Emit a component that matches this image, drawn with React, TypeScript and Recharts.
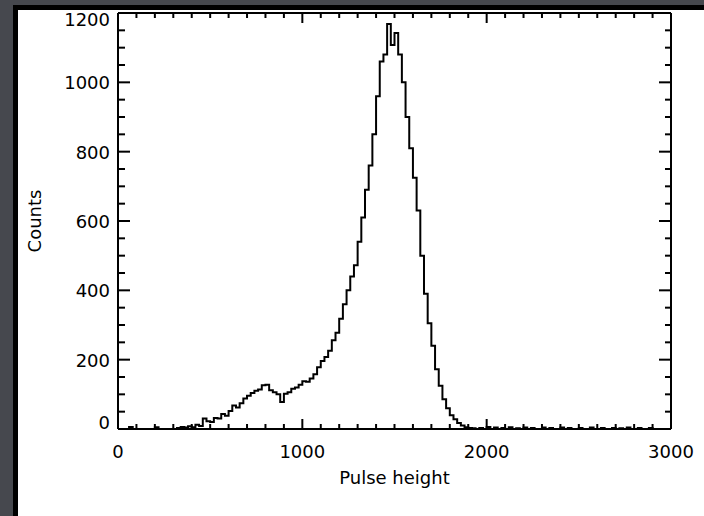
import React from 'react';
import { LineChart, Line, XAxis, YAxis } from 'recharts';

// Histogram bin starts (channel) and counts, bin width 20
const binStarts: number[] = [
  0, 20, 40, 60, 80, 100, 120, 140, 160, 180, 200, 220, 240, 260, 280, 300, 320, 340, 360, 380,
  400, 420, 440, 460, 480, 500, 520, 540, 560, 580, 600, 620, 640, 660, 680, 700, 720, 740, 760, 780,
  800, 820, 840, 860, 880, 900, 920, 940, 960, 980, 1000, 1020, 1040, 1060, 1080, 1100, 1120, 1140, 1160, 1180,
  1200, 1220, 1240, 1260, 1280, 1300, 1320, 1340, 1360, 1380, 1400, 1420, 1440, 1460, 1480, 1500, 1520, 1540, 1560, 1580,
  1600, 1620, 1640, 1660, 1680, 1700, 1720, 1740, 1760, 1780, 1800, 1820, 1840, 1860, 1880, 1900, 1920, 1940, 1960, 1980,
  2000, 2020, 2040, 2060, 2080, 2100, 2120, 2140, 2160, 2180, 2200, 2220, 2240, 2260, 2280, 2300, 2320, 2340, 2360, 2380,
  2400, 2420, 2440, 2460, 2480, 2500, 2520, 2540, 2560, 2580, 2600, 2620, 2640, 2660, 2680, 2700, 2720, 2740, 2760, 2780,
  2800, 2820, 2840, 2860, 2880, 2900, 2920, 2940, 2960, 2980, 3000,
];

const counts: number[] = [
  0, 0, 0, 6, 0, 0, 0, 0, 0, 0, 5, 0, 0, 0, 0, 0, 3, 6, 4, 8,
  5, 12, 9, 30, 22, 20, 32, 30, 43, 38, 52, 68, 62, 74, 88, 96, 104, 110, 114, 126,
  128, 112, 106, 100, 78, 102, 106, 116, 120, 128, 138, 136, 146, 158, 178, 196, 208, 226, 256, 278,
  318, 360, 400, 440, 472, 540, 610, 690, 760, 850, 960, 1060, 1080, 1168, 1108, 1142, 1080, 1000, 900, 810,
  725, 630, 500, 390, 305, 240, 172, 125, 86, 60, 40, 28, 17, 10, 5, 3, 2, 0, 3, 0,
  6, 0, 4, 0, 3, 0, 5, 0, 2, 0, 4, 0, 3, 0, 0, 4, 0, 3, 0, 0,
  4, 0, 3, 0, 0, 3, 0, 0, 4, 0, 0, 3, 0, 0, 3, 0, 2, 0, 4, 0,
  0, 3, 0, 0, 3, 0, 0, 0, 0, 0, 0,
];

const xMajorTicks: number[] = [0, 1000, 2000, 3000];
const yMajorTicks: number[] = [0, 200, 400, 600, 800, 1000, 1200];
const xTickStep = 100;
const yTickStep = 50;

const xTicks: number[] = [];
for (let v = 0; v <= 3000; v += xTickStep) xTicks.push(v);
const yTicks: number[] = [];
for (let v = 0; v <= 1200; v += yTickStep) yTicks.push(v);

const data = binStarts.map((ch, i) => ({ ch, c: counts[i] }));

const FONT = '"DejaVu Sans", sans-serif';
const MAJOR = 10;
const MINOR = 5;

const BottomTick = (props: any) => {
  const { x, y, payload } = props;
  const v = payload.value;
  const major = xMajorTicks.includes(v);
  return (
    <g>
      <line x1={x} x2={x} y1={y} y2={y - (major ? MAJOR : MINOR)} stroke="#000" strokeWidth={2} />
      {major && (
        <text x={x} y={y + 29} textAnchor="middle" fontFamily={FONT} fontSize={18} fill="#000">
          {v}
        </text>
      )}
    </g>
  );
};

const TopTick = (props: any) => {
  const { x, y, payload } = props;
  const major = xMajorTicks.includes(payload.value);
  return <line x1={x} x2={x} y1={y} y2={y + (major ? MAJOR : MINOR)} stroke="#000" strokeWidth={2} />;
};

const LeftTick = (props: any) => {
  const { x, y, payload } = props;
  const v = payload.value;
  const major = yMajorTicks.includes(v);
  let by = y + 7;
  if (v === 0) by = y;
  if (v === 1200) by = y + 13;
  return (
    <g>
      <line x1={x} x2={x + (major ? MAJOR + 2 : MINOR + 2)} y1={y} y2={y} stroke="#000" strokeWidth={2} />
      {major && (
        <text x={x - 8} y={by} textAnchor="end" fontFamily={FONT} fontSize={18} fill="#000">
          {v}
        </text>
      )}
    </g>
  );
};

const RightTick = (props: any) => {
  const { x, y, payload } = props;
  const major = yMajorTicks.includes(payload.value);
  return <line x1={x} x2={x - (major ? MAJOR + 2 : MINOR + 1)} y1={y} y2={y} stroke="#000" strokeWidth={2} />;
};

const XTitle = (props: any) => {
  const vb = props.viewBox || {};
  return (
    <text x={vb.x + vb.width / 2} y={vb.y + 55} textAnchor="middle" fontFamily={FONT} fontSize={18} fill="#000">
      Pulse height
    </text>
  );
};

const YTitle = (props: any) => {
  const vb = props.viewBox || {};
  const cx = 17;
  const cy = vb.y + vb.height / 2;
  return (
    <text
      x={cx}
      y={cy}
      transform={`rotate(-90, ${cx}, ${cy})`}
      dy={6}
      textAnchor="middle"
      fontFamily={FONT}
      fontSize={18}
      fill="#000"
    >
      Counts
    </text>
  );
};

export default function App() {
  return (
    <div
      style={{
        position: 'fixed',
        left: 0,
        top: 0,
        width: 704,
        height: 516,
        background: '#46484e',
        overflow: 'hidden',
      }}
    >
      <div
        style={{
          position: 'absolute',
          left: 13,
          top: 5,
          width: 691,
          height: 511,
          background: '#ffffff',
          borderTop: '5px solid #000',
          borderLeft: '5px solid #000',
          boxSizing: 'border-box',
        }}
      >
        <LineChart
          width={686}
          height={506}
          data={data}
          margin={{ top: 2, right: 32, bottom: 0, left: 0 }}
        >
          <XAxis
            dataKey="ch"
            type="number"
            domain={[0, 3000]}
            ticks={xTicks}
            interval={0}
            tickSize={0}
            tickMargin={0}
            tick={<BottomTick />}
            tickLine={false}
            axisLine={{ stroke: '#000', strokeWidth: 2 }}
            height={87}
            allowDataOverflow
            label={{ content: <XTitle /> }}
          />
          <XAxis
            xAxisId="top"
            orientation="top"
            dataKey="ch"
            type="number"
            domain={[0, 3000]}
            ticks={xTicks}
            interval={0}
            tickSize={0}
            tickMargin={0}
            tick={<TopTick />}
            tickLine={false}
            axisLine={{ stroke: '#000', strokeWidth: 2 }}
            height={1}
            allowDataOverflow
          />
          <YAxis
            type="number"
            domain={[0, 1200]}
            ticks={yTicks}
            interval={0}
            tickSize={0}
            tickMargin={0}
            tick={<LeftTick />}
            tickLine={false}
            axisLine={{ stroke: '#000', strokeWidth: 2 }}
            width={100}
            allowDataOverflow
            label={{ content: <YTitle /> }}
          />
          <YAxis
            yAxisId="right"
            orientation="right"
            type="number"
            domain={[0, 1200]}
            ticks={yTicks}
            interval={0}
            tickSize={0}
            tickMargin={0}
            tick={<RightTick />}
            tickLine={false}
            axisLine={{ stroke: '#000', strokeWidth: 2 }}
            width={1}
            allowDataOverflow
          />
          <Line
            xAxisId="top"
            yAxisId="right"
            type="stepAfter"
            dataKey="c"
            stroke="none"
            strokeWidth={0}
            dot={false}
            activeDot={false}
            legendType="none"
            isAnimationActive={false}
          />
          <Line
            type="stepAfter"
            dataKey="c"
            stroke="#000"
            strokeWidth={2}
            dot={false}
            isAnimationActive={false}
          />
        </LineChart>
      </div>
    </div>
  );
}
